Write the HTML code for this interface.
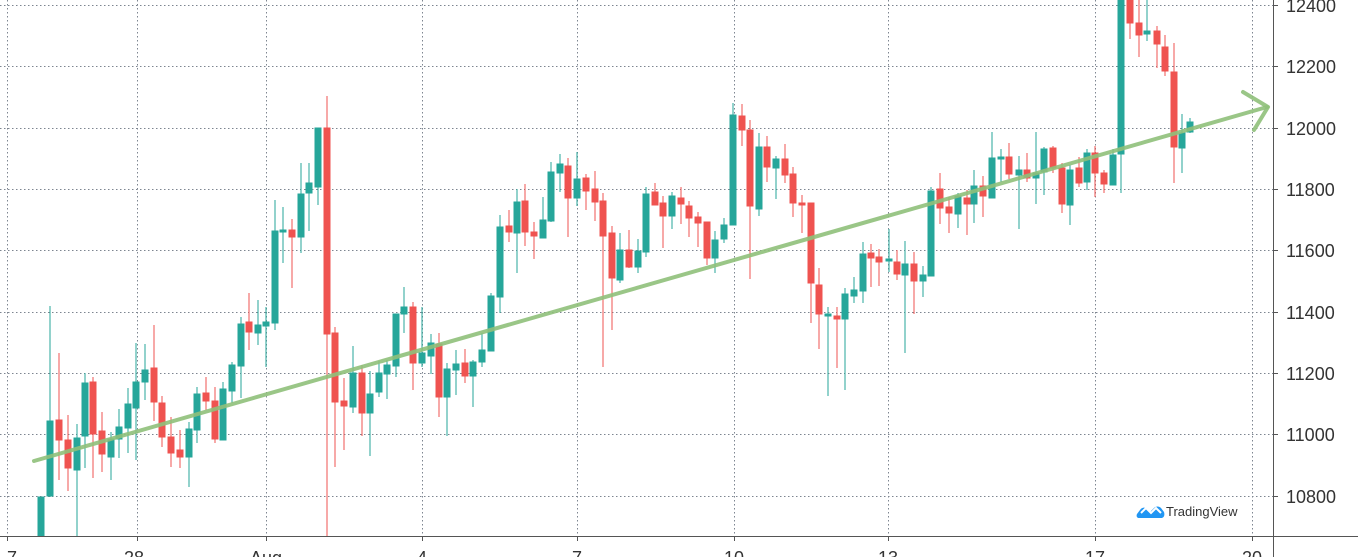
<!DOCTYPE html>
<html><head><meta charset="utf-8"><style>
html,body{margin:0;padding:0;background:#fff;width:1358px;height:557px;overflow:hidden}
svg{display:block}
text{font-family:"Liberation Sans",sans-serif;fill:#333}
</style></head><body>
<svg width="1358" height="557" viewBox="0 0 1358 557" xmlns="http://www.w3.org/2000/svg">
<defs><clipPath id="c"><rect x="0" y="0" width="1273" height="536"/></clipPath></defs>
<g stroke="#7d8590" stroke-width="1" stroke-dasharray="1.5 2.5" fill="none">
<path d="M0 5.5H1273M0 66.5H1273M0 128.5H1273M0 189.5H1273M0 250.5H1273M0 312.5H1273M0 373.5H1273M0 434.5H1273M0 496.5H1273"/>
<path d="M7.5 0V536M137.5 0V536M266.5 0V536M422.5 0V536M577.5 0V536M734.5 0V536M888.5 0V536M1095.5 0V536M1252.5 0V536"/>
</g>
<g clip-path="url(#c)">
<path fill="#26a69a" stroke="#26a69a" stroke-width="1" d="M41 505V536M38 497h6v39h-6zM50 306V497M47 421h6v75h-6zM77 424V536M74 438h6v32h-6zM85 373V468M82 383h6v53h-6zM111 432V480M108 439h6v18h-6zM119 409V458M116 427h6v12h-6zM128 388V453M125 404h6v24h-6zM136 343V460M133 382h6v26h-6zM145 344V400M142 370h6v12h-6zM189 422V487M186 429h6v28h-6zM197 387V443M194 394h6v36h-6zM223 382V440M220 389h6v51h-6zM232 362V403M229 365h6v26h-6zM241 317V398M238 324h6v42h-6zM258 300V345M255 325h6v8h-6zM266 307V367M263 322h6v4h-6zM275 200V330M272 231h6v92h-6zM283 207V263M280 230h6v2h-6zM301 163V253M298 194h6v43h-6zM309 163V231M306 183h6v10h-6zM318 128V205M315 128h6v59h-6zM353 346V413M350 373h6v34h-6zM370 371V456M367 394h6v19h-6zM379 361V397M376 373h6v19h-6zM387 360V399M384 365h6v9h-6zM396 314V377M393 314h6v52h-6zM404 287V333M401 307h6v7h-6zM422 307V367M419 353h6v10h-6zM431 334V374M428 343h6v13h-6zM447 363V436M444 369h6v28h-6zM456 350V395M453 364h6v6h-6zM473 360V407M470 362h6v14h-6zM482 333V367M479 350h6v12h-6zM491 293V351M488 296h6v55h-6zM500 215V313M497 227h6v70h-6zM517 189V273M514 202h6v31h-6zM543 197V238M540 220h6v18h-6zM551 162V222M548 172h6v49h-6zM560 154V192M557 164h6v9h-6zM577 152V206M574 179h6v19h-6zM620 233V283M617 250h6v30h-6zM638 239V273M635 251h6v16h-6zM646 187V257M643 194h6v58h-6zM672 192V229M669 196h6v20h-6zM715 231V273M712 240h6v18h-6zM724 218V243M721 225h6v14h-6zM733 103V225M730 115h6v110h-6zM759 133V216M756 147h6v62h-6zM776 156V199M773 159h6v9h-6zM828 307V396M825 314h6v2h-6zM845 288V390M842 294h6v25h-6zM854 277V303M851 290h6v6h-6zM863 242V303M860 254h6v37h-6zM889 229V272M886 259h6v2h-6zM905 241V353M902 264h6v11h-6zM923 266V297M920 275h6v6h-6zM931 187V276M928 191h6v85h-6zM958 193V228M955 196h6v18h-6zM974 170V223M971 186h6v18h-6zM992 132V198M989 158h6v40h-6zM1001 149V182M998 157h6v2h-6zM1019 156V229M1016 170h6v5h-6zM1036 132V204M1033 173h6v5h-6zM1044 147V195M1041 149h6v23h-6zM1070 165V225M1067 170h6v35h-6zM1087 149V190M1084 153h6v29h-6zM1113 149V185M1110 155h6v30h-6zM1121 0V193M1118 0h6v154h-6zM1147 0V41M1144 31h6v3h-6zM1182 114V173M1179 133h6v15h-6zM1190 118V133M1187 122h6v10h-6z"/>
<path fill="#ef5350" stroke="#ef5350" stroke-width="1" d="M59 353V480M56 420h6v20h-6zM68 415V491M65 440h6v28h-6zM93 377V478M90 382h6v52h-6zM102 412V472M99 431h6v23h-6zM154 325V421M151 368h6v34h-6zM162 396V447M159 403h6v34h-6zM171 417V467M168 437h6v16h-6zM180 430V468M177 450h6v7h-6zM206 377V410M203 393h6v8h-6zM215 387V443M212 401h6v38h-6zM249 293V350M246 322h6v10h-6zM292 219V288M289 230h6v7h-6zM327 96V536M324 128h6v206h-6zM335 327V467M332 333h6v69h-6zM344 378V450M341 401h6v5h-6zM362 365V436M359 373h6v40h-6zM413 302V390M410 307h6v56h-6zM439 333V417M436 344h6v53h-6zM465 349V383M462 363h6v13h-6zM509 210V242M506 226h6v6h-6zM525 184V246M522 201h6v31h-6zM534 222V259M531 232h6v4h-6zM568 158V237M565 166h6v32h-6zM586 174V210M583 178h6v13h-6zM595 171V221M592 189h6v13h-6zM603 193V367M600 201h6v35h-6zM612 226V330M609 233h6v45h-6zM629 230V268M626 250h6v17h-6zM655 183V205M652 192h6v13h-6zM663 196V248M660 203h6v13h-6zM681 187V224M678 198h6v6h-6zM689 201V237M686 206h6v12h-6zM698 212V247M695 217h6v6h-6zM707 222V265M704 222h6v36h-6zM742 104V146M739 116h6v14h-6zM750 120V279M747 130h6v76h-6zM767 136V182M764 147h6v20h-6zM785 144V183M782 159h6v16h-6zM793 167V217M790 174h6v29h-6zM802 195V233M799 203h6v2h-6zM811 203V323M808 203h6v80h-6zM819 268V349M816 285h6v29h-6zM837 307V368M834 316h6v3h-6zM871 244V287M868 253h6v5h-6zM879 249V286M876 257h6v5h-6zM897 250V280M894 262h6v12h-6zM914 252V314M911 264h6v17h-6zM940 173V224M937 189h6v19h-6zM949 197V233M946 207h6v6h-6zM967 190V235M964 198h6v6h-6zM983 176V217M980 186h6v10h-6zM1009 143V179M1006 157h6v17h-6zM1027 153V182M1024 170h6v8h-6zM1053 146V173M1050 148h6v20h-6zM1062 163V213M1059 168h6v36h-6zM1079 157V187M1076 168h6v15h-6zM1095 146V197M1092 153h6v20h-6zM1104 170V193M1101 173h6v11h-6zM1130 0V39M1127 0h6v23h-6zM1139 0V57M1136 23h6v12h-6zM1157 26V68M1154 31h6v13h-6zM1165 35V76M1162 47h6v24h-6zM1174 43V183M1171 72h6v75h-6z"/>
</g>
<g stroke="#8fc07a" stroke-opacity="0.9" stroke-width="4" fill="none" stroke-linecap="round" stroke-linejoin="round">
<path d="M34 461L1267 107"/>
<path d="M1243 92L1268 107L1254 130"/>
</g>
<g stroke="#555" stroke-width="1" fill="none">
<path d="M1273.5 0V557M0 536.5H1358"/>
<path d="M1273 5.5h5M1273 66.5h5M1273 128.5h5M1273 189.5h5M1273 250.5h5M1273 312.5h5M1273 373.5h5M1273 434.5h5M1273 496.5h5"/>
<path d="M7.5 536v5M137.5 536v5M266.5 536v5M422.5 536v5M577.5 536v5M734.5 536v5M888.5 536v5M1095.5 536v5M1252.5 536v5"/>
</g>
<g font-size="18">
<text x="1286" y="12">12400</text>
<text x="1286" y="73">12200</text>
<text x="1286" y="135">12000</text>
<text x="1286" y="196">11800</text>
<text x="1286" y="257">11600</text>
<text x="1286" y="319">11400</text>
<text x="1286" y="380">11200</text>
<text x="1286" y="441">11000</text>
<text x="1286" y="503">10800</text>
</g>
<g font-size="18" text-anchor="middle">
<text x="12" y="564">7</text>
<text x="134" y="564">28</text>
<text x="266" y="564">Aug</text>
<text x="422" y="564">4</text>
<text x="577" y="564">7</text>
<text x="734" y="564">10</text>
<text x="888" y="564">13</text>
<text x="1095" y="564">17</text>
<text x="1252" y="564">20</text>
</g>
<g>
<path d="M1139 518c-2 0-3-2-2-4l3-4c2-3 5-3 7-1l3 3 4-4c2-2 5-2 7 0l3 4c1 3 0 6-3 6z" fill="#2196f3"/>
<path d="M1141 513l5-5 5 5 5-5 5 5" stroke="#fff" stroke-width="2" fill="none"/>
<text x="1166" y="516" font-size="13" fill="#333">TradingView</text>
</g>
</svg>
</body></html>
